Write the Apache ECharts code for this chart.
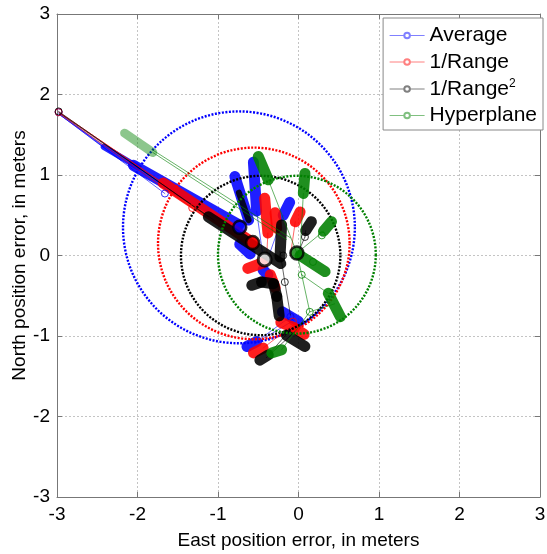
<!DOCTYPE html>
<html><head><meta charset="utf-8">
<script src="https://cdn.jsdelivr.net/npm/echarts@6/dist/echarts.min.js"></script>
<style>html,body{margin:0;padding:0;background:#fff}#c{width:547px;height:554px}</style>
</head><body><div id="c"></div>
<script>
// ---- data (meters) ----
const axisTicks = [-3, -2, -1, 0, 1, 2, 3];
const seriesNames = ['Average', '1/Range', '1/Range2', 'Hyperplane'];

// circles: [centerEast, centerNorth, radius]
const avgCircle = [-0.74, 0.35, 1.44];
const r1Circle = [-0.555, 0.15, 1.19];
const r2Circle = [-0.47, 0.0, 0.99];
const hypCircle = [-0.02, 0.01, 0.98];

// means
const avgMean = [-0.73, 0.35];
const r1Mean = [-0.57, 0.16];
const r2Mean = [-0.42, -0.05];
const hypMean = [-0.02, 0.03];

// thick clusters of estimates: [e1, n1, e2, n2]
const avgStreaks = [
  [-2.05, 1.12, -0.74, 0.38], [-0.56, 1.16, -0.52, 0.55], [-0.79, 0.98, -0.62, 0.44],
  [-0.11, 0.66, -0.19, 0.5], [-0.73, 0.14, -0.6, 0.02], [-0.44, -0.18, -0.38, -0.24],
  [-0.2, -0.7, 0.0, -0.82], [-0.64, -1.13, -0.52, -1.07]
];
const avgTaper = [[-2.42, 1.35, -2.0, 1.1]];
const avgThin = [
  [-2.98, 1.78, -2.42, 1.35], [-2.98, 1.76, -1.66, 0.77], [-2.95, 1.74, -2.2, 1.18],
  [-2.97, 1.75, -1.9, 1.0],
  [-0.52, -1.07, -0.1, -0.76], [-0.55, -1.1, -0.05, -0.8], [-0.19, 0.5, -0.36, 0.02],
  [-0.52, 0.55, -0.45, 0.05]
];
const avgOpen = [[-2.98, 1.78], [-1.66, 0.77], [-0.1, -0.76]];

const r1Streaks = [
  [-1.68, 0.9, -0.57, 0.16], [-0.42, 0.71, -0.38, 0.28], [-0.29, 0.53, -0.27, 0.34],
  [0.02, 0.54, -0.04, 0.42], [-0.63, -0.16, -0.44, -0.09], [-0.35, -0.24, -0.29, -0.4],
  [-0.22, -0.83, -0.05, -0.9], [-0.02, -0.92, 0.07, -0.98], [-0.56, -1.21, -0.44, -1.15]
];
const r1Thin = [
  [-2.98, 1.78, -1.68, 0.9], [-2.97, 1.76, -1.32, 0.59], [-2.96, 1.77, -1.6, 0.84],
  [-0.44, -1.15, -0.05, -0.85],
  [-0.04, 0.42, -0.1, 0.0], [-0.38, 0.28, -0.4, -0.1]
];
const r1Open = [[-2.98, 1.78], [-1.32, 0.59], [-0.07, -0.82]];

const r2Streaks = [
  [-1.12, 0.48, -0.22, -0.1], [-0.21, 0.38, -0.23, -0.02], [0.16, 0.42, 0.09, 0.31],
  [-0.58, -0.37, -0.46, -0.33], [-0.46, -0.33, -0.31, -0.35], [-0.31, -0.35, -0.27, -0.51],
  [-0.27, -0.51, -0.24, -0.75], [-0.15, -0.99, 0.08, -1.13], [-0.48, -1.3, -0.375, -1.235]
];
const r2Taper = [[-0.74, 0.78, -0.62, 0.44]];
const r2Thin = [
  [-2.98, 1.79, -1.12, 0.48], [-2.97, 1.77, -1.05, 0.44], [-0.23, 0.05, -0.17, -0.33],
  [-0.17, -0.33, -0.1, -0.74], [0.09, 0.31, 0.08, 0.23], [0.08, 0.23, -0.02, 0.0],
  [-0.375, -1.235, -0.08, -0.9], [-0.4, -1.27, -0.05, -0.95]
];
const r2Open = [[-2.98, 1.79], [0.08, 0.23], [-0.17, -0.33], [-0.19, 0.0]];

const hypStreaks = [
  [-0.5, 1.23, -0.375, 0.94], [0.08, 1.02, 0.06, 0.77], [0.41, 0.42, 0.31, 0.3],
  [0.02, 0.0, 0.33, -0.2], [0.37, -0.47, 0.52, -0.76], [-0.33, -1.21, -0.21, -1.17]
];
const hypFaint = [[-2.16, 1.52, -1.81, 1.28]];
const hypThin = [
  [-1.81, 1.28, -0.15, 0.2], [-1.81, 1.31, -0.1, 0.22], [-0.375, 0.94, -0.02, 0.03],
  [0.06, 0.77, 0.02, 0.03], [0.31, 0.3, -0.02, 0.03], [0.04, -0.24, 0.37, -0.47],
  [0.04, -0.24, 0.14, -0.7], [0.14, -0.7, 0.45, -0.6], [-0.21, -1.17, 0.14, -0.7],
  [0.04, -0.24, -0.02, 0.03]
];
const hypOpen = [[0.29, 0.25], [0.18, -0.08], [0.04, -0.24], [0.14, -0.7]];

// ---- rendering ----
const FONT = '"Liberation Sans", Arial, Helvetica, sans-serif';
const chart = echarts.init(document.getElementById('c'));

function segSeries(data, color, width, opacity) {
  return {
    type: 'custom', data: data, encode: { x: [0, 2], y: [1, 3] }, silent: true,
    renderItem: function (p, api) {
      const a = api.coord([api.value(0), api.value(1)]);
      const b = api.coord([api.value(2), api.value(3)]);
      return { type: 'line', shape: { x1: a[0], y1: a[1], x2: b[0], y2: b[1] },
        style: { stroke: color, lineWidth: width, lineCap: 'round', opacity: opacity } };
    }
  };
}
function circleSeries(c, color) {
  return {
    type: 'custom', data: [c], encode: { x: 0, y: 1 }, silent: true,
    renderItem: function (p, api) {
      const ctr = api.coord([api.value(0), api.value(1)]);
      const r = api.size([api.value(2), 0])[0];
      return { type: 'circle', shape: { cx: ctr[0], cy: ctr[1], r: r },
        style: { fill: 'none', stroke: color, lineWidth: 2.4, lineDash: [2, 1.5] } };
    }
  };
}
function openSeries(data, color) {
  return { type: 'scatter', data: data, symbol: 'circle', symbolSize: 7, silent: true,
    itemStyle: { color: 'rgba(255,255,255,0)', borderColor: color, borderWidth: 1, opacity: 0.8 } };
}
function meanSeries(pt, fill, bw) {
  return { type: 'scatter', data: [pt], symbol: 'circle', symbolSize: 13, silent: true, z: 5,
    itemStyle: { color: fill, borderColor: '#000', borderWidth: bw } };
}

const groups = [
  { c: '#0000ff', light: '#8080ff', streaks: avgStreaks, taper: avgTaper, faint: [], thin: avgThin, open: avgOpen, circ: avgCircle },
  { c: '#ff0000', light: '#ff8080', streaks: r1Streaks, taper: [], faint: [], thin: r1Thin, open: r1Open, circ: r1Circle },
  { c: '#000000', light: '#808080', streaks: r2Streaks, taper: r2Taper, faint: [], thin: r2Thin, open: r2Open, circ: r2Circle },
  { c: '#008000', light: '#80c080', streaks: hypStreaks, taper: [], faint: hypFaint, thin: hypThin, open: hypOpen, circ: hypCircle }
];

const series = [];
groups.forEach(function (g) {
  series.push(segSeries(g.thin, g.c, 1, 0.6));
  series.push(segSeries(g.faint, g.c, 9, 0.45));
  series.push(segSeries(g.taper, g.c, 6, 0.85));
  series.push(segSeries(g.streaks, g.c, 11, 0.88));
  series.push(openSeries(g.open, g.c));
  series.push(circleSeries(g.circ, g.c));
});
series.push(meanSeries(avgMean, '#0000ff', 2.5));
series.push(meanSeries(r1Mean, '#ff0000', 2.5));
series.push(meanSeries(r2Mean, '#ffffff', 3));
series.push(meanSeries(hypMean, '#008000', 2.5));
// legend entries
groups.forEach(function (g, i) {
  series.push({ type: 'line', name: seriesNames[i], data: [], symbol: 'emptyCircle', symbolSize: 6,
    itemStyle: { color: g.light, borderWidth: 1 }, lineStyle: { color: g.light, width: 1 } });
});

const axisCommon = {
  type: 'value', min: axisTicks[0], max: axisTicks[axisTicks.length - 1], interval: 1,
  axisLine: { show: true, onZero: false, lineStyle: { color: '#777', width: 1 } },
  axisTick: { show: true, inside: true, length: 5, lineStyle: { color: '#777' } }
};
const gridLine = { show: true, lineStyle: { color: '#c4c4c4', width: 1, type: [2, 2] } };
const labelStyle = { color: '#000', fontSize: 19, fontFamily: FONT };

chart.setOption({
  animation: false,
  backgroundColor: '#fff',
  grid: { left: 57, right: 7, top: 14, bottom: 57, show: false, containLabel: false, outerBoundsMode: 'none' },
  xAxis: [
    Object.assign({}, axisCommon, { position: 'bottom', axisLabel: Object.assign({ margin: 8 }, labelStyle),
      splitLine: gridLine, name: 'East position error, in meters', nameLocation: 'middle', nameGap: 34,
      nameTextStyle: labelStyle }),
    Object.assign({}, axisCommon, { position: 'top', axisLabel: { show: false }, splitLine: { show: false } })
  ],
  yAxis: [
    Object.assign({}, axisCommon, { position: 'left', axisLabel: Object.assign({ margin: 7 }, labelStyle),
      splitLine: gridLine, name: 'North position error, in meters', nameLocation: 'middle', nameGap: 28,
      nameMoveOverlap: false, nameTextStyle: labelStyle }),
    Object.assign({}, axisCommon, { position: 'right', axisLabel: { show: false }, splitLine: { show: false } })
  ],
  legend: {
    data: seriesNames, orient: 'vertical', right: 4, top: 18,
    itemWidth: 35, itemHeight: 7, itemGap: 5.5, itemTextGap: 6, padding: [7, 6, 4, 6],
    borderColor: '#888', borderWidth: 1, backgroundColor: '#fff',
    lineStyle: { width: 1 }, itemStyle: { borderWidth: 1 },
    textStyle: { color: '#000', fontSize: 21, fontFamily: FONT, lineHeight: 21,
      rich: { sup: { fontSize: 12, fontFamily: FONT, color: '#000', padding: [0, 0, 10, 0] } } },
    formatter: function (n) { return n === '1/Range2' ? '1/Range{sup|2}' : n; }
  },
  series: series
});
</script></body></html>
